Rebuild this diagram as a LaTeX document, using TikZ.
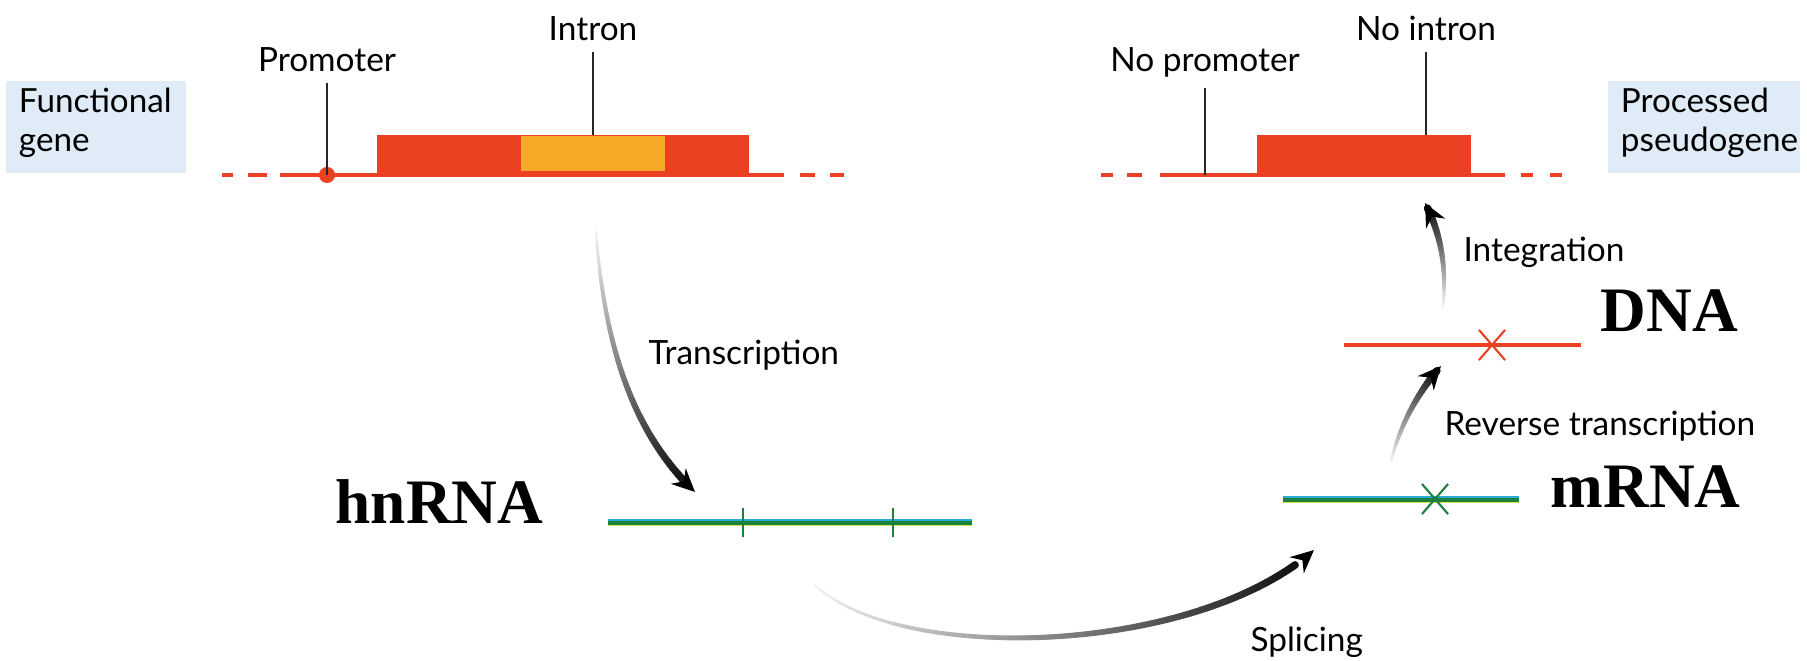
\documentclass[tikz,border=0pt]{standalone}
\usepackage{fontspec}
\setmainfont{Liberation Serif}
\newfontfamily\labelfont{Lato}
\usetikzlibrary{arrows.meta,positioning,calc,shapes.misc,decorations.markings}
\definecolor{geneRed}{RGB}{236,64,34}
\definecolor{intronOrange}{RGB}{247,170,40}
\definecolor{tagBlue}{RGB}{223,236,247}
\definecolor{rnaGreen}{RGB}{28,128,62}
\definecolor{rnaBlue}{RGB}{40,172,214}
\definecolor{rnaYellow}{RGB}{214,226,70}

\begin{document}
\begin{tikzpicture}[
  x=0.01cm, y=-0.01cm,
  lbl/.style={font=\labelfont\fontsize{9.5}{11}\selectfont, inner sep=0pt, outer sep=3pt},
  tag/.style={fill=tagBlue, font=\labelfont\fontsize{9.45}{11.2}\selectfont, align=left,
              inner xsep=0.13cm, inner ysep=0pt, text height=7pt, text depth=15.2pt},
  bigname/.style={font=\bfseries\fontsize{18}{20}\selectfont, inner sep=0pt, anchor=base west},
  dna/.style={geneRed, line width=1.4pt},
  pointer/.style={black!85, line width=0.5pt},
  xmark/.style={cross out, line width=0.6pt, inner sep=0pt, minimum width=0.24cm, minimum height=0.28cm},
  tip/.style={black, line width=1.1pt, -{Stealth[length=6.5pt,width=6pt]}},
  fadearrow/.style={
    postaction={decorate, decoration={markings,
      mark=between positions 0 and 0.95 step 0.5pt with {
        \pgfmathsetmacro\fadefrac{\pgfkeysvalueof{/pgf/decoration/mark info/distance from start}/\pgfdecoratedpathlength}
        \pgfmathtruncatemacro\fadeshade{5+93*\fadefrac}
        \pgfmathsetmacro\fadeR{0.45+0.7*\fadefrac}
        \fill[black!\fadeshade] (0,0) circle[radius=\fadeR pt];}}}}
]
\useasboundingbox (0,0) rectangle (1807,661);
\fill[white] (0,0) rectangle (1807,661);

% side tags
\node[tag, text width=1.54cm, minimum width=1.80cm, minimum height=0.92cm] (fgTag) at (96,127) {Functional\\gene};
\node[tag, text width=1.66cm, minimum width=1.92cm, minimum height=0.92cm] (ppTag) at (1704,127) {Processed\\pseudogene};

% functional gene
\foreach \a/\b in {222/233, 248/267, 800/815, 830/844}
  \draw[dna] (\a,175) -- (\b,175);
\draw[dna] (280,175) -- (784,175);
\fill[geneRed] (377,135) rectangle (749,175);
\fill[intronOrange] (521,136) rectangle (665,171);
\node[circle, fill=geneRed, inner sep=0pt, minimum size=0.16cm] (promDot) at (327,175) {};
\coordinate (intronTop) at (593,135);
\node[lbl, anchor=base] (promTxt) at (327,72) {Promoter};
\node[lbl, anchor=base] (intronTxt) at (593,41) {Intron};
\draw[pointer] (promTxt.south) -- (promDot.center);
\draw[pointer] (intronTxt.south) -- (intronTop);

% processed pseudogene
\foreach \a/\b in {1101/1113, 1127/1142, 1521/1533, 1550/1562}
  \draw[dna] (\a,175) -- (\b,175);
\draw[dna] (1160,175) -- (1505,175);
\fill[geneRed] (1257,135) rectangle (1471,175);
\coordinate (noPromPt) at (1205,175);
\coordinate (exonTop) at (1426,135);
\node[lbl, anchor=base] (nopromTxt) at (1205,72) {No promoter};
\node[lbl, anchor=base] (nointronTxt) at (1426,41) {No intron};
\draw[pointer] (nopromTxt.south) -- (noPromPt);
\draw[pointer] (nointronTxt.south) -- (exonTop);

% hnRNA
\draw[rnaYellow, line width=1.6pt] (608,523.5) -- (972,523.5);
\draw[rnaGreen, line width=1.3pt] (608,522.5) -- (972,522.5);
\draw[rnaBlue, line width=0.5pt] (608,520) -- (972,520);
\foreach \t in {743, 893}
  \draw[rnaGreen, line width=0.8pt] (\t,508) -- (\t,537);
\node[bigname] (hnLbl) at (335,523) {hnRNA};

% mRNA
\draw[rnaYellow, line width=1.6pt] (1283,500.5) -- (1519,500.5);
\draw[rnaGreen, line width=1.3pt] (1283,499.5) -- (1519,499.5);
\draw[rnaBlue, line width=0.5pt] (1283,497) -- (1519,497);
\node[xmark, draw=rnaGreen] (mX) at (1435,499) {};
\node[bigname] (mLbl) at (1550,507) {mRNA};

% DNA copy
\draw[geneRed, line width=1.3pt] (1344,345) -- (1581,345);
\node[xmark, draw=geneRed] (dX) at (1492,345) {};
\node[bigname] (dLbl) at (1600,332) {DNA};

% steps
\coordinate (geneOut) at (596,232);
\coordinate (hnIn) at (695,492);
\coordinate (hnOut) at (815,585);
\coordinate (mIn) at (1314,550);
\coordinate (mOut) at (1391,461);
\coordinate (dnaIn) at (1441,366);
\coordinate (dnaOut) at (1443,306);
\coordinate (pseudoIn) at (1425,203);
\coordinate (trsC) at (630,430);
\coordinate (splC) at (1195,655);
\coordinate (rtC) at (1418,392);
\coordinate (intC) at (1440,232);
\path[fadearrow] (geneOut) .. controls (604,340) and (trsC) .. (hnIn);
\path[fadearrow] (hnOut) .. controls (900,665) and (splC) .. (mIn);
\path[fadearrow] (mOut) .. controls (1400,425) and (rtC) .. (dnaIn);
\path[fadearrow] (dnaOut) .. controls (1447,265) and (intC) .. (pseudoIn);
\foreach \e/\c in {hnIn/trsC, mIn/splC, dnaIn/rtC, pseudoIn/intC}
  \draw[tip] ($(\e)!3pt!(\c)$) -- (\e);

\node[lbl, anchor=base west] (trsTxt) at (638,364) {Transcription};
\node[lbl, anchor=base west] (splTxt) at (1240,651) {Splicing};
\node[lbl, anchor=base west] (rtTxt) at (1434,435) {Reverse transcription};
\node[lbl, anchor=base west] (intTxt) at (1453,262) {Integration};
\end{tikzpicture}
\end{document}
